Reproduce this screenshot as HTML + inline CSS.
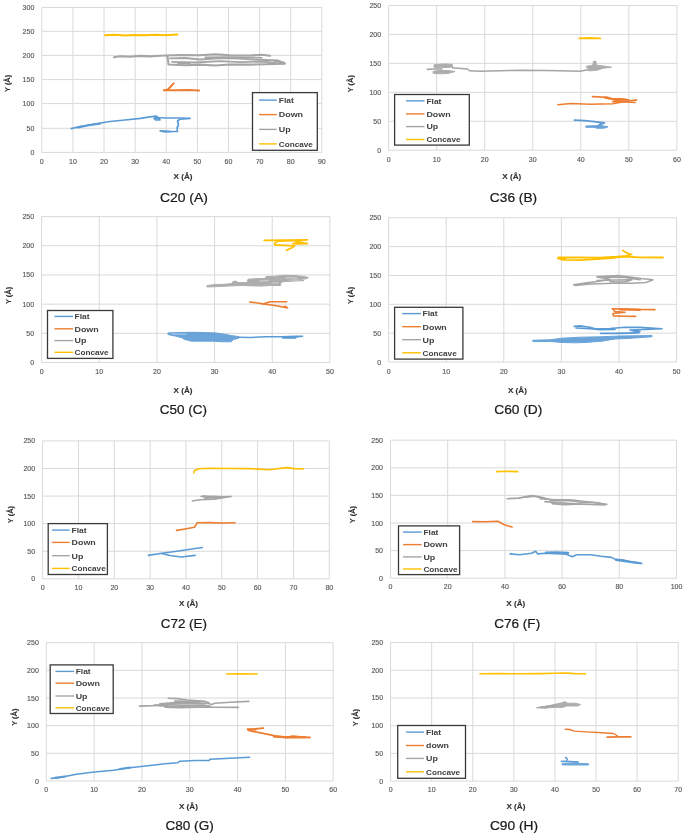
<!DOCTYPE html>
<html><head><meta charset="utf-8"><style>
html,body{margin:0;padding:0;background:#fff;}
svg{display:block;will-change:transform;}
text{font-family:"Liberation Sans", sans-serif;}
.tk{font-size:7px;fill:#595959;stroke:#595959;stroke-width:0.15px;}
.al{font-size:7.2px;fill:#333;font-weight:bold;stroke:#333;stroke-width:0.12px;}
.lg{font-size:7.4px;fill:#404040;font-weight:bold;}
.tt{font-size:12.6px;fill:#1a1a1a;stroke:#1a1a1a;stroke-width:0.22px;}
</style></head><body>
<svg width="685" height="835" viewBox="0 0 685 835">
<rect width="685" height="835" fill="#fff"/>
<path d="M41.8 7.45V152.4M72.91 7.45V152.4M104.02 7.45V152.4M135.13 7.45V152.4M166.24 7.45V152.4M197.36 7.45V152.4M228.47 7.45V152.4M259.58 7.45V152.4M290.69 7.45V152.4M321.8 7.45V152.4M41.8 152.4H321.8M41.8 128.3H321.8M41.8 103.6H321.8M41.8 79.6H321.8M41.8 55.4H321.8M41.8 31.3H321.8M41.8 7.45H321.8" stroke="#D9D9D9" stroke-width="1" fill="none"/>
<text x="41.8" y="164" class="tk" text-anchor="middle">0</text>
<text x="72.91" y="164" class="tk" text-anchor="middle">10</text>
<text x="104.02" y="164" class="tk" text-anchor="middle">20</text>
<text x="135.13" y="164" class="tk" text-anchor="middle">30</text>
<text x="166.24" y="164" class="tk" text-anchor="middle">40</text>
<text x="197.36" y="164" class="tk" text-anchor="middle">50</text>
<text x="228.47" y="164" class="tk" text-anchor="middle">60</text>
<text x="259.58" y="164" class="tk" text-anchor="middle">70</text>
<text x="290.69" y="164" class="tk" text-anchor="middle">80</text>
<text x="321.8" y="164" class="tk" text-anchor="middle">90</text>
<text x="34.3" y="154.9" class="tk" text-anchor="end">0</text>
<text x="34.3" y="130.8" class="tk" text-anchor="end">50</text>
<text x="34.3" y="106.1" class="tk" text-anchor="end">100</text>
<text x="34.3" y="82.1" class="tk" text-anchor="end">150</text>
<text x="34.3" y="57.9" class="tk" text-anchor="end">200</text>
<text x="34.3" y="33.8" class="tk" text-anchor="end">250</text>
<text x="34.3" y="9.95" class="tk" text-anchor="end">300</text>
<text transform="translate(10.4 83.4) rotate(-90)" class="al" x="-8.6" textLength="17.2" lengthAdjust="spacingAndGlyphs">Y (Å)</text>
<text x="173.6" y="179.3" class="al" textLength="19" lengthAdjust="spacingAndGlyphs">X (Å)</text>
<path d="M105 35.2 L115 34.8 L125 35.4 L135 34.9 L145 35.3 L155 34.8 L165 35.2 L177.4 34.5" stroke="#FFC000" stroke-width="2.0" fill="none" stroke-linejoin="round" stroke-linecap="round"/>
<path d="M114 57.3 L120 56.2 L130 56.7 L140 55.9 L150 56.4 L160 55.7 L166.5 55.5 L180 55 L200 55.3 L215 54.3 L230 55.2 L250 55.5 L262 54.8 L270 55.8" stroke="#A5A5A5" stroke-width="2.1" fill="none" stroke-linejoin="round" stroke-linecap="round"/>
<path d="M167.4 56 L168 60 L168.5 64.5 L185 65.2 L200 64.6 L215 65.5 L230 64.5 L250 64.6 L265 64.2 L284.9 63.6 L280 62 L275 61.5" stroke="#A5A5A5" stroke-width="2.1" fill="none" stroke-linejoin="round" stroke-linecap="round"/>
<path d="M170 58.3 L185 58 L200 59.5 L215 58.5 L230 58.2 L255 59.5 L278 60.5 L284 62.5" stroke="#A5A5A5" stroke-width="1.8" fill="none" stroke-linejoin="round" stroke-linecap="round"/>
<path d="M172 61.8 L195 62.5 L220 61.2 L240 62.2 L262 61.5 L275 62.8" stroke="#A5A5A5" stroke-width="1.8" fill="none" stroke-linejoin="round" stroke-linecap="round"/>
<path d="M205 57.3 L225 57 L245 57.3 L262 57.8" stroke="#A5A5A5" stroke-width="1.5" fill="none" stroke-linejoin="round" stroke-linecap="round"/>
<path d="M178 63.5 L190 63.3" stroke="#A5A5A5" stroke-width="1.5" fill="none" stroke-linejoin="round" stroke-linecap="round"/>
<path d="M173.6 83.4 L168 89.5 L163.8 90.3 L175 90.3 L188 90 L199.2 90.4" stroke="#ED7D31" stroke-width="2.0" fill="none" stroke-linejoin="round" stroke-linecap="round"/>
<path d="M71.2 128.6 L80 126.5 L95 124 L110 121.5 L125 120 L140.7 118.4 L150 116.8 L156 116 L158 117.5 L154 118.3 L156 120 L160 119.8 L158 117.5 L165 118 L178 118 L190.2 118.4 L180 119.2 L177.5 121 L178.5 125 L177 128 L177.5 131.5 L170 131.3 L160.1 130.8 L165 131.8 L172 131.6" stroke="#5B9BD5" stroke-width="1.7" fill="none" stroke-linejoin="round" stroke-linecap="round"/>
<path d="M155 117.5 L159 118.5" stroke="#5B9BD5" stroke-width="2.2" fill="none" stroke-linejoin="round" stroke-linecap="round"/>
<path d="M78 127.3 L90 125 L100 123.6" stroke="#5B9BD5" stroke-width="2.2" fill="none" stroke-linejoin="round" stroke-linecap="round"/>
<rect x="252.5" y="92.6" width="64.8" height="57.7" fill="#fff" stroke="#3a3a3a" stroke-width="1.3"/>
<path d="M259 100.1H276.8" stroke="#5B9BD5" stroke-width="1.4"/>
<text x="278.8" y="102.9" class="lg" textLength="15" lengthAdjust="spacingAndGlyphs">Flat</text>
<path d="M259 114.6H276.8" stroke="#ED7D31" stroke-width="1.4"/>
<text x="278.8" y="117.4" class="lg" textLength="24.2" lengthAdjust="spacingAndGlyphs">Down</text>
<path d="M259 129.4H276.8" stroke="#A5A5A5" stroke-width="1.4"/>
<text x="278.8" y="132.2" class="lg" textLength="11.8" lengthAdjust="spacingAndGlyphs">Up</text>
<path d="M259 143.9H276.8" stroke="#FFC000" stroke-width="1.4"/>
<text x="278.8" y="146.7" class="lg" textLength="34.1" lengthAdjust="spacingAndGlyphs">Concave</text>
<text x="159.95" y="201.8" class="tt" textLength="47.9" lengthAdjust="spacingAndGlyphs">C20 (A)</text>
<path d="M388.6 5.5V150.2M436.65 5.5V150.2M484.7 5.5V150.2M532.75 5.5V150.2M580.8 5.5V150.2M628.85 5.5V150.2M676.9 5.5V150.2M388.6 150.2H676.9M388.6 121.26H676.9M388.6 92.32H676.9M388.6 63.38H676.9M388.6 34.44H676.9M388.6 5.5H676.9" stroke="#D9D9D9" stroke-width="1" fill="none"/>
<text x="388.6" y="161.9" class="tk" text-anchor="middle">0</text>
<text x="436.65" y="161.9" class="tk" text-anchor="middle">10</text>
<text x="484.7" y="161.9" class="tk" text-anchor="middle">20</text>
<text x="532.75" y="161.9" class="tk" text-anchor="middle">30</text>
<text x="580.8" y="161.9" class="tk" text-anchor="middle">40</text>
<text x="628.85" y="161.9" class="tk" text-anchor="middle">50</text>
<text x="676.9" y="161.9" class="tk" text-anchor="middle">60</text>
<text x="381.1" y="152.7" class="tk" text-anchor="end">0</text>
<text x="381.1" y="123.76" class="tk" text-anchor="end">50</text>
<text x="381.1" y="94.82" class="tk" text-anchor="end">100</text>
<text x="381.1" y="65.88" class="tk" text-anchor="end">150</text>
<text x="381.1" y="36.94" class="tk" text-anchor="end">200</text>
<text x="381.1" y="8" class="tk" text-anchor="end">250</text>
<text transform="translate(353.1 83.75) rotate(-90)" class="al" x="-8.6" textLength="17.2" lengthAdjust="spacingAndGlyphs">Y (Å)</text>
<text x="502.3" y="179.4" class="al" textLength="19" lengthAdjust="spacingAndGlyphs">X (Å)</text>
<path d="M579.2 38.4 L590 38 L600.3 38.4" stroke="#FFC000" stroke-width="1.8" fill="none" stroke-linejoin="round" stroke-linecap="round"/>
<path d="M452.4 67.7 L467.3 69 L470 70.8 L480 71.2 L500 70.8 L520 70.3 L545 70.6 L560 70.8 L580.1 71.2 L586.3 69.9" stroke="#A5A5A5" stroke-width="1.5" fill="none" stroke-linejoin="round" stroke-linecap="round"/>
<path d="M434 64.8 L445 64 L452.4 64.5 L452.4 67 L445 67.5 L440 67.8 L434 67.3Z" stroke="#A5A5A5" stroke-width="1" fill="#A5A5A5" stroke-linejoin="round" opacity="0.9"/>
<path d="M427.4 69.4 L434 69 L441.9 69" stroke="#A5A5A5" stroke-width="1.6" fill="none" stroke-linejoin="round" stroke-linecap="round"/>
<path d="M433.1 71.3 L440 70.5 L448 70.6 L455 71.5 L448 73.5 L440 73.8 L433.1 73.3Z" stroke="#A5A5A5" stroke-width="1" fill="#A5A5A5" stroke-linejoin="round" opacity="0.9"/>
<path d="M586.3 66.3 L591 65.6 L593.2 64.6 L593.3 61.3 L596 61.3 L596.3 65.2 L603 65.9 L611.7 67.2 L603 68.3 L597 70.2 L590 70.9 L586.3 70.1 L588.5 68.4 L586.3 67.2Z" stroke="#A5A5A5" stroke-width="1" fill="#A5A5A5" stroke-linejoin="round" opacity="0.9"/>
<path d="M557.9 104.7 L570.8 103.5 L590.5 104.2 L612.8 103.8 L625 101.5 L636.5 99.9" stroke="#ED7D31" stroke-width="1.6" fill="none" stroke-linejoin="round" stroke-linecap="round"/>
<path d="M592.4 96.6 L607.6 97.2 L610.2 98.5 L622 98.9 L628.6 99.9 L618 100.2 L612.8 101.6 L625 102 L635.1 102.5" stroke="#ED7D31" stroke-width="1.6" fill="none" stroke-linejoin="round" stroke-linecap="round"/>
<path d="M605 97.6 L612 98.8 L620 99.4" stroke="#ED7D31" stroke-width="2.2" fill="none" stroke-linejoin="round" stroke-linecap="round"/>
<path d="M574.5 120.2 L584.7 120.6 L596.4 121.9 L604.4 123 L600 124.4 L598 126.2" stroke="#5B9BD5" stroke-width="1.8" fill="none" stroke-linejoin="round" stroke-linecap="round"/>
<path d="M585.8 126 L596.4 125.6 L601 125.5 L608.1 126.8 L604 128.2 L597.1 128.3 L594 127.3 L585.8 127.3Z" stroke="#5B9BD5" stroke-width="1" fill="#5B9BD5" stroke-linejoin="round" opacity="0.9"/>
<rect x="394.6" y="94.5" width="74.7" height="50.6" fill="#fff" stroke="#3a3a3a" stroke-width="1.3"/>
<path d="M406 100.8H424.5" stroke="#5B9BD5" stroke-width="1.4"/>
<text x="426.4" y="103.6" class="lg" textLength="15" lengthAdjust="spacingAndGlyphs">Flat</text>
<path d="M406 113.9H424.5" stroke="#ED7D31" stroke-width="1.4"/>
<text x="426.4" y="116.7" class="lg" textLength="24.2" lengthAdjust="spacingAndGlyphs">Down</text>
<path d="M406 126.6H424.5" stroke="#A5A5A5" stroke-width="1.4"/>
<text x="426.4" y="129.4" class="lg" textLength="11.8" lengthAdjust="spacingAndGlyphs">Up</text>
<path d="M406 139.5H424.5" stroke="#FFC000" stroke-width="1.4"/>
<text x="426.4" y="142.3" class="lg" textLength="34.1" lengthAdjust="spacingAndGlyphs">Concave</text>
<text x="489.85" y="202" class="tt" textLength="47.3" lengthAdjust="spacingAndGlyphs">C36 (B)</text>
<path d="M41.6 216.6V362.5M99.26 216.6V362.5M156.92 216.6V362.5M214.58 216.6V362.5M272.24 216.6V362.5M329.9 216.6V362.5M41.6 362.5H329.9M41.6 333.32H329.9M41.6 304.14H329.9M41.6 274.96H329.9M41.6 245.78H329.9M41.6 216.6H329.9" stroke="#D9D9D9" stroke-width="1" fill="none"/>
<text x="41.6" y="373.7" class="tk" text-anchor="middle">0</text>
<text x="99.26" y="373.7" class="tk" text-anchor="middle">10</text>
<text x="156.92" y="373.7" class="tk" text-anchor="middle">20</text>
<text x="214.58" y="373.7" class="tk" text-anchor="middle">30</text>
<text x="272.24" y="373.7" class="tk" text-anchor="middle">40</text>
<text x="329.9" y="373.7" class="tk" text-anchor="middle">50</text>
<text x="34.1" y="365" class="tk" text-anchor="end">0</text>
<text x="34.1" y="335.82" class="tk" text-anchor="end">50</text>
<text x="34.1" y="306.64" class="tk" text-anchor="end">100</text>
<text x="34.1" y="277.46" class="tk" text-anchor="end">150</text>
<text x="34.1" y="248.28" class="tk" text-anchor="end">200</text>
<text x="34.1" y="219.1" class="tk" text-anchor="end">250</text>
<text transform="translate(10.7 295.5) rotate(-90)" class="al" x="-8.6" textLength="17.2" lengthAdjust="spacingAndGlyphs">Y (Å)</text>
<text x="173.5" y="392.7" class="al" textLength="19" lengthAdjust="spacingAndGlyphs">X (Å)</text>
<path d="M264.2 240.3 L285 240.2 L307.5 239.8 L292 240.6 L277.8 241 L274.4 243.6 L275 245 L285 245.4 L294.8 245.8 L292 247.8 L286.5 250.3" stroke="#FFC000" stroke-width="1.8" fill="none" stroke-linejoin="round" stroke-linecap="round"/>
<path d="M292.7 243.6 L300 242.6 L297 241.6 L307.5 243.6 L295 243.8" stroke="#FFC000" stroke-width="1.8" fill="none" stroke-linejoin="round" stroke-linecap="round"/>
<path d="M296 241.5 L300 242.5" stroke="#FFC000" stroke-width="2.4" fill="none" stroke-linejoin="round" stroke-linecap="round"/>
<path d="M207 285.5 L215 284.6 L225 284.2 L231.5 283.6 L233 281.5 L236 281.1 L238 282.6 L247 282.6 L248 279.2 L258 278.5 L265 278.4 L266 276.6 L275 276.2 L285 275.3 L295 275.6 L303 276.3 L308.6 277.5 L306 278.8 L300 279.3 L304 280.6 L295 281 L285 281.6 L281 282.2 L280.6 285.6 L270 285.5 L262 286.1 L250 285.8 L240 285.5 L230 285.9 L220 286.5 L207 287Z" stroke="#A5A5A5" stroke-width="1" fill="#A5A5A5" stroke-linejoin="round" opacity="0.9"/>
<path d="M286 278 L292 277.8 L297 278.1" stroke="#E4E4E4" stroke-width="0.7" fill="none" stroke-linejoin="round" stroke-linecap="round"/>
<path d="M260 281 L268 280.6" stroke="#E4E4E4" stroke-width="0.7" fill="none" stroke-linejoin="round" stroke-linecap="round"/>
<path d="M272 283.2 L278 283" stroke="#E4E4E4" stroke-width="0.6" fill="none" stroke-linejoin="round" stroke-linecap="round"/>
<path d="M290 280.1 L299 280" stroke="#E4E4E4" stroke-width="0.6" fill="none" stroke-linejoin="round" stroke-linecap="round"/>
<path d="M249.9 302.1 L256 302.8 L263 303.9 L270 301.8 L286.7 301.8" stroke="#ED7D31" stroke-width="1.6" fill="none" stroke-linejoin="round" stroke-linecap="round"/>
<path d="M263 303.9 L275 305.5 L287.6 307.9 L285 306.2" stroke="#ED7D31" stroke-width="1.6" fill="none" stroke-linejoin="round" stroke-linecap="round"/>
<path d="M167.9 332.9 L180 332.4 L195 332.3 L215.2 332.9 L225 334.2 L231 335.5 L238.8 336.6 L238.8 338.1 L233.6 339.5 L231 341.8 L223 341.8 L212.6 341.2 L191.5 341.2 L183.6 339.2 L183 338.1 L175.8 336.2 L167.9 334.5Z" stroke="#5B9BD5" stroke-width="1" fill="#5B9BD5" stroke-linejoin="round" opacity="0.9"/>
<path d="M172 333.8 L186 334.3" stroke="#EAF2FA" stroke-width="0.6" fill="none" stroke-linejoin="round" stroke-linecap="round"/>
<path d="M238 337.2 L250 337.5 L265 336.8 L281.5 336.7 L296.4 336.2 L302.5 336.3 L290 337.7 L282.7 337.8" stroke="#5B9BD5" stroke-width="1.6" fill="none" stroke-linejoin="round" stroke-linecap="round"/>
<path d="M283 337.5 L295.5 337.8" stroke="#5B9BD5" stroke-width="2.0" fill="none" stroke-linejoin="round" stroke-linecap="round"/>
<rect x="47.5" y="310.5" width="65.4" height="47.9" fill="#fff" stroke="#3a3a3a" stroke-width="1.3"/>
<path d="M54.5 316.4H73.1" stroke="#5B9BD5" stroke-width="1.4"/>
<text x="74.5" y="319.2" class="lg" textLength="15" lengthAdjust="spacingAndGlyphs">Flat</text>
<path d="M54.5 328.8H73.1" stroke="#ED7D31" stroke-width="1.4"/>
<text x="74.5" y="331.6" class="lg" textLength="24.2" lengthAdjust="spacingAndGlyphs">Down</text>
<path d="M54.5 340.6H73.1" stroke="#A5A5A5" stroke-width="1.4"/>
<text x="74.5" y="343.4" class="lg" textLength="11.8" lengthAdjust="spacingAndGlyphs">Up</text>
<path d="M54.5 352.3H73.1" stroke="#FFC000" stroke-width="1.4"/>
<text x="74.5" y="355.1" class="lg" textLength="34.1" lengthAdjust="spacingAndGlyphs">Concave</text>
<text x="159.75" y="414" class="tt" textLength="47.3" lengthAdjust="spacingAndGlyphs">C50 (C)</text>
<path d="M388.6 217.8V362M446.2 217.8V362M503.8 217.8V362M561.4 217.8V362M619 217.8V362M676.6 217.8V362M388.6 362H676.6M388.6 333.16H676.6M388.6 304.32H676.6M388.6 275.48H676.6M388.6 246.64H676.6M388.6 217.8H676.6" stroke="#D9D9D9" stroke-width="1" fill="none"/>
<text x="388.6" y="373.7" class="tk" text-anchor="middle">0</text>
<text x="446.2" y="373.7" class="tk" text-anchor="middle">10</text>
<text x="503.8" y="373.7" class="tk" text-anchor="middle">20</text>
<text x="561.4" y="373.7" class="tk" text-anchor="middle">30</text>
<text x="619" y="373.7" class="tk" text-anchor="middle">40</text>
<text x="676.6" y="373.7" class="tk" text-anchor="middle">50</text>
<text x="381.1" y="364.5" class="tk" text-anchor="end">0</text>
<text x="381.1" y="335.66" class="tk" text-anchor="end">50</text>
<text x="381.1" y="306.82" class="tk" text-anchor="end">100</text>
<text x="381.1" y="277.98" class="tk" text-anchor="end">150</text>
<text x="381.1" y="249.14" class="tk" text-anchor="end">200</text>
<text x="381.1" y="220.3" class="tk" text-anchor="end">250</text>
<text transform="translate(352.9 295.5) rotate(-90)" class="al" x="-8.6" textLength="17.2" lengthAdjust="spacingAndGlyphs">Y (Å)</text>
<text x="507.9" y="392.7" class="al" textLength="19" lengthAdjust="spacingAndGlyphs">X (Å)</text>
<path d="M558.5 257.5 L580 257.3 L600 257.6 L622 256.5 L640 257.3 L663 257.5" stroke="#FFC000" stroke-width="1.8" fill="none" stroke-linejoin="round" stroke-linecap="round"/>
<path d="M558.5 258 L562 259.8 L580 260.2 L597 259 L612 258 L625 256.2 L631.7 254.5 L627 253 L622.8 250.5" stroke="#FFC000" stroke-width="1.8" fill="none" stroke-linejoin="round" stroke-linecap="round"/>
<path d="M558.5 258.3 L565 258.5" stroke="#FFC000" stroke-width="2.6" fill="none" stroke-linejoin="round" stroke-linecap="round"/>
<path d="M575 285.5 L590 284 L613.4 283.2 L632 283.2 L646 282.5 L653 279.7 L641.5 278.5 L618 275.5 L597 276.9 L610 279.2 L597 281.5 L585 283 L573.7 284.8" stroke="#A5A5A5" stroke-width="1.6" fill="none" stroke-linejoin="round" stroke-linecap="round"/>
<path d="M597 280.5 L615 280 L632 279.8 L625 282 L610 281.8" stroke="#A5A5A5" stroke-width="1.6" fill="none" stroke-linejoin="round" stroke-linecap="round"/>
<path d="M605 277 L625 277.3 L640 279.5" stroke="#A5A5A5" stroke-width="2.0" fill="none" stroke-linejoin="round" stroke-linecap="round"/>
<path d="M612.3 308.9 L625 309 L640 309.5 L655 309.6" stroke="#ED7D31" stroke-width="1.6" fill="none" stroke-linejoin="round" stroke-linecap="round"/>
<path d="M613.4 309 L614.5 311.5 L625 312.2 L613 313.5 L613.4 315.9 L625 316.2 L635.6 316.4" stroke="#ED7D31" stroke-width="1.6" fill="none" stroke-linejoin="round" stroke-linecap="round"/>
<path d="M620 309.4 L640 309.8" stroke="#ED7D31" stroke-width="2.2" fill="none" stroke-linejoin="round" stroke-linecap="round"/>
<path d="M574.2 326.4 L580 325.9 L590 327.2 L595 328.8 L610 328.5 L625 327.2 L640 327.4 L662 328.7 L645 329.5 L630 330 L640 331.5 L630 332.8 L615 333.2 L600.6 333.4 L620 333.4 L639.1 332.9" stroke="#5B9BD5" stroke-width="1.6" fill="none" stroke-linejoin="round" stroke-linecap="round"/>
<path d="M576 328 L590 328.6 L600 329.6 L615 329.4" stroke="#5B9BD5" stroke-width="1.6" fill="none" stroke-linejoin="round" stroke-linecap="round"/>
<path d="M532.8 340.2 L550 339.8 L562 338.2 L580 337.2 L600 336.8 L620 336 L652 335.5 L652 336.8 L630 338.3 L615 339 L601.8 341.2 L585 342.5 L575 342.8 L562 342.5 L550 341.5 L532.8 341.6Z" stroke="#5B9BD5" stroke-width="1" fill="#5B9BD5" stroke-linejoin="round" opacity="0.9"/>
<rect x="394.6" y="307.3" width="68.3" height="51.8" fill="#fff" stroke="#3a3a3a" stroke-width="1.3"/>
<path d="M402.2 313.6H420.9" stroke="#5B9BD5" stroke-width="1.4"/>
<text x="422.6" y="316.4" class="lg" textLength="15" lengthAdjust="spacingAndGlyphs">Flat</text>
<path d="M402.2 326.7H420.9" stroke="#ED7D31" stroke-width="1.4"/>
<text x="422.6" y="329.5" class="lg" textLength="24.2" lengthAdjust="spacingAndGlyphs">Down</text>
<path d="M402.2 339.7H420.9" stroke="#A5A5A5" stroke-width="1.4"/>
<text x="422.6" y="342.5" class="lg" textLength="11.8" lengthAdjust="spacingAndGlyphs">Up</text>
<path d="M402.2 352.8H420.9" stroke="#FFC000" stroke-width="1.4"/>
<text x="422.6" y="355.6" class="lg" textLength="34.1" lengthAdjust="spacingAndGlyphs">Concave</text>
<text x="494.2" y="414" class="tt" textLength="48.2" lengthAdjust="spacingAndGlyphs">C60 (D)</text>
<path d="M42.6 440.9V578.8M78.44 440.9V578.8M114.28 440.9V578.8M150.11 440.9V578.8M185.95 440.9V578.8M221.79 440.9V578.8M257.62 440.9V578.8M293.46 440.9V578.8M329.3 440.9V578.8M42.6 578.8H329.3M42.6 551.22H329.3M42.6 523.64H329.3M42.6 496.06H329.3M42.6 468.48H329.3M42.6 440.9H329.3" stroke="#D9D9D9" stroke-width="1" fill="none"/>
<text x="42.6" y="590.1" class="tk" text-anchor="middle">0</text>
<text x="78.44" y="590.1" class="tk" text-anchor="middle">10</text>
<text x="114.28" y="590.1" class="tk" text-anchor="middle">20</text>
<text x="150.11" y="590.1" class="tk" text-anchor="middle">30</text>
<text x="185.95" y="590.1" class="tk" text-anchor="middle">40</text>
<text x="221.79" y="590.1" class="tk" text-anchor="middle">50</text>
<text x="257.62" y="590.1" class="tk" text-anchor="middle">60</text>
<text x="293.46" y="590.1" class="tk" text-anchor="middle">70</text>
<text x="329.3" y="590.1" class="tk" text-anchor="middle">80</text>
<text x="35.1" y="581.3" class="tk" text-anchor="end">0</text>
<text x="35.1" y="553.72" class="tk" text-anchor="end">50</text>
<text x="35.1" y="526.14" class="tk" text-anchor="end">100</text>
<text x="35.1" y="498.56" class="tk" text-anchor="end">150</text>
<text x="35.1" y="470.98" class="tk" text-anchor="end">200</text>
<text x="35.1" y="443.4" class="tk" text-anchor="end">250</text>
<text transform="translate(12.5 514.6) rotate(-90)" class="al" x="-8.6" textLength="17.2" lengthAdjust="spacingAndGlyphs">Y (Å)</text>
<text x="179.1" y="606.4" class="al" textLength="19" lengthAdjust="spacingAndGlyphs">X (Å)</text>
<path d="M193.8 472.9 L194.5 470.5 L198.8 468.7 L210 468.2 L230 468.5 L250 468.6 L269.3 469.8 L286.3 467.6 L295 468.6 L303.4 468.9" stroke="#FFC000" stroke-width="1.6" fill="none" stroke-linejoin="round" stroke-linecap="round"/>
<path d="M192.3 501 L200 499.8 L214 499.2 L231.2 496.5 L210 497 L203 495.7 L205 498 L220 497.5" stroke="#A5A5A5" stroke-width="1.6" fill="none" stroke-linejoin="round" stroke-linecap="round"/>
<path d="M201 496.5 L212 496.2 L225 496.8" stroke="#A5A5A5" stroke-width="1.4" fill="none" stroke-linejoin="round" stroke-linecap="round"/>
<path d="M176.5 530.4 L185 529 L194.4 527.3 L196 525 L197 522.8 L210 522.6 L222 523 L235.1 522.8" stroke="#ED7D31" stroke-width="1.6" fill="none" stroke-linejoin="round" stroke-linecap="round"/>
<path d="M148.4 555.4 L160 553.5 L175 551.5 L190 549.2 L202.3 547.5" stroke="#5B9BD5" stroke-width="1.6" fill="none" stroke-linejoin="round" stroke-linecap="round"/>
<path d="M161.5 553.5 L170 555.5 L181.2 557 L195.2 555.4" stroke="#5B9BD5" stroke-width="1.6" fill="none" stroke-linejoin="round" stroke-linecap="round"/>
<rect x="48.2" y="523.6" width="59.2" height="50.9" fill="#fff" stroke="#3a3a3a" stroke-width="1.3"/>
<path d="M51.9 530.1H69.7" stroke="#5B9BD5" stroke-width="1.4"/>
<text x="71.6" y="532.9" class="lg" textLength="15" lengthAdjust="spacingAndGlyphs">Flat</text>
<path d="M51.9 542.4H69.7" stroke="#ED7D31" stroke-width="1.4"/>
<text x="71.6" y="545.2" class="lg" textLength="24.2" lengthAdjust="spacingAndGlyphs">Down</text>
<path d="M51.9 555.7H69.7" stroke="#A5A5A5" stroke-width="1.4"/>
<text x="71.6" y="558.5" class="lg" textLength="11.8" lengthAdjust="spacingAndGlyphs">Up</text>
<path d="M51.9 568.4H69.7" stroke="#FFC000" stroke-width="1.4"/>
<text x="71.6" y="571.2" class="lg" textLength="34.1" lengthAdjust="spacingAndGlyphs">Concave</text>
<text x="160.8" y="628.1" class="tt" textLength="46.2" lengthAdjust="spacingAndGlyphs">C72 (E)</text>
<path d="M390.5 440.2V578.2M447.7 440.2V578.2M504.9 440.2V578.2M562.1 440.2V578.2M619.3 440.2V578.2M676.5 440.2V578.2M390.5 578.2H676.5M390.5 550.6H676.5M390.5 523H676.5M390.5 495.4H676.5M390.5 467.8H676.5M390.5 440.2H676.5" stroke="#D9D9D9" stroke-width="1" fill="none"/>
<text x="390.5" y="589.2" class="tk" text-anchor="middle">0</text>
<text x="447.7" y="589.2" class="tk" text-anchor="middle">20</text>
<text x="504.9" y="589.2" class="tk" text-anchor="middle">40</text>
<text x="562.1" y="589.2" class="tk" text-anchor="middle">60</text>
<text x="619.3" y="589.2" class="tk" text-anchor="middle">80</text>
<text x="676.5" y="589.2" class="tk" text-anchor="middle">100</text>
<text x="383" y="580.7" class="tk" text-anchor="end">0</text>
<text x="383" y="553.1" class="tk" text-anchor="end">50</text>
<text x="383" y="525.5" class="tk" text-anchor="end">100</text>
<text x="383" y="497.9" class="tk" text-anchor="end">150</text>
<text x="383" y="470.3" class="tk" text-anchor="end">200</text>
<text x="383" y="442.7" class="tk" text-anchor="end">250</text>
<text transform="translate(355.4 514.6) rotate(-90)" class="al" x="-8.6" textLength="17.2" lengthAdjust="spacingAndGlyphs">Y (Å)</text>
<text x="506.3" y="606.4" class="al" textLength="19" lengthAdjust="spacingAndGlyphs">X (Å)</text>
<path d="M496.5 471.6 L507 471.3 L517.8 471.6" stroke="#FFC000" stroke-width="1.6" fill="none" stroke-linejoin="round" stroke-linecap="round"/>
<path d="M507 498.7 L519.3 498.1 L531.5 495.5 L542.9 497.6 L552.6 500.8 L570 500.8 L580.6 502.2 L592.9 502.5 L606.9 504.3" stroke="#A5A5A5" stroke-width="1.6" fill="none" stroke-linejoin="round" stroke-linecap="round"/>
<path d="M540 498.6 L555 499.8 L570 499.8 L585 501.5 L600 503" stroke="#A5A5A5" stroke-width="1.6" fill="none" stroke-linejoin="round" stroke-linecap="round"/>
<path d="M545 501.6 L560 502.8 L575 503.8 L590 504.3 L605 504.8" stroke="#A5A5A5" stroke-width="1.8" fill="none" stroke-linejoin="round" stroke-linecap="round"/>
<path d="M552 503.6 L565 504.6 L580 504" stroke="#A5A5A5" stroke-width="1.6" fill="none" stroke-linejoin="round" stroke-linecap="round"/>
<path d="M525 497 L535 496.2 L545 498.6" stroke="#A5A5A5" stroke-width="1.6" fill="none" stroke-linejoin="round" stroke-linecap="round"/>
<path d="M519 497.6 L530 496.9" stroke="#A5A5A5" stroke-width="1.3" fill="none" stroke-linejoin="round" stroke-linecap="round"/>
<path d="M472.6 521.6 L485 521.7 L498 521.3 L503.8 524.5 L512 527.1" stroke="#ED7D31" stroke-width="1.6" fill="none" stroke-linejoin="round" stroke-linecap="round"/>
<path d="M510.1 553.9 L519.3 554.7 L531.6 553.3 L535.7 551.2 L537.7 553.9 L545.9 553.3 L566.3 554.3 L572.4 556.8 L576.5 554.7 L590.8 554.7 L601.1 556.3 L611.3 557.4 L615.4 559.4 L623.5 560 L631.7 562.1 L641.9 563.5" stroke="#5B9BD5" stroke-width="1.6" fill="none" stroke-linejoin="round" stroke-linecap="round"/>
<path d="M546 552.6 L556 552.4 L568 553" stroke="#5B9BD5" stroke-width="2.4" fill="none" stroke-linejoin="round" stroke-linecap="round"/>
<path d="M616 559.8 L630 561.8 L640 563.2" stroke="#5B9BD5" stroke-width="2.2" fill="none" stroke-linejoin="round" stroke-linecap="round"/>
<rect x="398.5" y="525.9" width="61.1" height="48.7" fill="#fff" stroke="#3a3a3a" stroke-width="1.3"/>
<path d="M403 532.1H421.6" stroke="#5B9BD5" stroke-width="1.4"/>
<text x="423.4" y="534.9" class="lg" textLength="15" lengthAdjust="spacingAndGlyphs">Flat</text>
<path d="M403 544.6H421.6" stroke="#ED7D31" stroke-width="1.4"/>
<text x="423.4" y="547.4" class="lg" textLength="24.2" lengthAdjust="spacingAndGlyphs">Down</text>
<path d="M403 556.9H421.6" stroke="#A5A5A5" stroke-width="1.4"/>
<text x="423.4" y="559.7" class="lg" textLength="11.8" lengthAdjust="spacingAndGlyphs">Up</text>
<path d="M403 569H421.6" stroke="#FFC000" stroke-width="1.4"/>
<text x="423.4" y="571.8" class="lg" textLength="34.1" lengthAdjust="spacingAndGlyphs">Concave</text>
<text x="494.2" y="628.1" class="tt" textLength="46" lengthAdjust="spacingAndGlyphs">C76 (F)</text>
<path d="M46.3 642.7V781M94.12 642.7V781M141.93 642.7V781M189.75 642.7V781M237.57 642.7V781M285.38 642.7V781M333.2 642.7V781M46.3 781H333.2M46.3 753.34H333.2M46.3 725.68H333.2M46.3 698.02H333.2M46.3 670.36H333.2M46.3 642.7H333.2" stroke="#D9D9D9" stroke-width="1" fill="none"/>
<text x="46.3" y="792.1" class="tk" text-anchor="middle">0</text>
<text x="94.12" y="792.1" class="tk" text-anchor="middle">10</text>
<text x="141.93" y="792.1" class="tk" text-anchor="middle">20</text>
<text x="189.75" y="792.1" class="tk" text-anchor="middle">30</text>
<text x="237.57" y="792.1" class="tk" text-anchor="middle">40</text>
<text x="285.38" y="792.1" class="tk" text-anchor="middle">50</text>
<text x="333.2" y="792.1" class="tk" text-anchor="middle">60</text>
<text x="38.8" y="783.5" class="tk" text-anchor="end">0</text>
<text x="38.8" y="755.84" class="tk" text-anchor="end">50</text>
<text x="38.8" y="728.18" class="tk" text-anchor="end">100</text>
<text x="38.8" y="700.52" class="tk" text-anchor="end">150</text>
<text x="38.8" y="672.86" class="tk" text-anchor="end">200</text>
<text x="38.8" y="645.2" class="tk" text-anchor="end">250</text>
<text transform="translate(16.8 717.2) rotate(-90)" class="al" x="-8.6" textLength="17.2" lengthAdjust="spacingAndGlyphs">Y (Å)</text>
<text x="178.9" y="808.9" class="al" textLength="19" lengthAdjust="spacingAndGlyphs">X (Å)</text>
<path d="M226.7 674 L240 673.8 L257.1 674" stroke="#FFC000" stroke-width="1.6" fill="none" stroke-linejoin="round" stroke-linecap="round"/>
<path d="M139.4 706.1 L152.5 705.6 L165 704.5 L180 704 L195 703.8 L208.6 703.5" stroke="#A5A5A5" stroke-width="1.6" fill="none" stroke-linejoin="round" stroke-linecap="round"/>
<path d="M155 705.2 L170 706.3 L185 706 L200 705.6 L210 706.2" stroke="#A5A5A5" stroke-width="2.0" fill="none" stroke-linejoin="round" stroke-linecap="round"/>
<path d="M160 704 L175 702.8 L190 703 L205 703.4" stroke="#A5A5A5" stroke-width="2.0" fill="none" stroke-linejoin="round" stroke-linecap="round"/>
<path d="M168.3 698.3 L177 698.6 L187.6 700 L205 701.4 L208.6 702.6" stroke="#A5A5A5" stroke-width="1.6" fill="none" stroke-linejoin="round" stroke-linecap="round"/>
<path d="M165 707.2 L180 707.6 L196.3 707.1 L215 707.2 L238.4 707.4" stroke="#A5A5A5" stroke-width="1.6" fill="none" stroke-linejoin="round" stroke-linecap="round"/>
<path d="M208.6 703.5 L212 704.4 L214.7 703.2 L230 702.3 L248.9 701.4" stroke="#A5A5A5" stroke-width="1.6" fill="none" stroke-linejoin="round" stroke-linecap="round"/>
<path d="M175 701.2 L190 701.5 L200 702.2" stroke="#A5A5A5" stroke-width="1.8" fill="none" stroke-linejoin="round" stroke-linecap="round"/>
<path d="M263.4 728.2 L255 728.8 L247.6 729.1 L249.3 730.7 L263.4 733.4 L275 735.8 L286.7 737.5 L292.6 736.1 L300.7 736.9 L310 737.5" stroke="#ED7D31" stroke-width="1.8" fill="none" stroke-linejoin="round" stroke-linecap="round"/>
<path d="M274 736.6 L290 737.4 L305 737.4" stroke="#ED7D31" stroke-width="2.2" fill="none" stroke-linejoin="round" stroke-linecap="round"/>
<path d="M248 729.8 L256 729.4" stroke="#ED7D31" stroke-width="2.0" fill="none" stroke-linejoin="round" stroke-linecap="round"/>
<path d="M51.2 778.4 L60 777.5 L75 774.5 L90 772.5 L105 771 L113.6 770.2 L130 767.8 L150 765.5 L165 763.8 L177.8 762.7 L180 761.2 L195 760.5 L209.2 760.5 L210 759.3 L225 758.5 L240 757.8 L249.6 757.2" stroke="#5B9BD5" stroke-width="1.6" fill="none" stroke-linejoin="round" stroke-linecap="round"/>
<path d="M55 777.8 L65 776.5" stroke="#5B9BD5" stroke-width="2.2" fill="none" stroke-linejoin="round" stroke-linecap="round"/>
<path d="M120 769 L130 767.6" stroke="#5B9BD5" stroke-width="2.0" fill="none" stroke-linejoin="round" stroke-linecap="round"/>
<rect x="50.2" y="664.9" width="63" height="48.6" fill="#fff" stroke="#3a3a3a" stroke-width="1.3"/>
<path d="M55.5 671.4H74.2" stroke="#5B9BD5" stroke-width="1.4"/>
<text x="75.7" y="674.2" class="lg" textLength="15" lengthAdjust="spacingAndGlyphs">Flat</text>
<path d="M55.5 683.2H74.2" stroke="#ED7D31" stroke-width="1.4"/>
<text x="75.7" y="686" class="lg" textLength="24.2" lengthAdjust="spacingAndGlyphs">Down</text>
<path d="M55.5 696H74.2" stroke="#A5A5A5" stroke-width="1.4"/>
<text x="75.7" y="698.8" class="lg" textLength="11.8" lengthAdjust="spacingAndGlyphs">Up</text>
<path d="M55.5 707.8H74.2" stroke="#FFC000" stroke-width="1.4"/>
<text x="75.7" y="710.6" class="lg" textLength="34.1" lengthAdjust="spacingAndGlyphs">Concave</text>
<text x="165.5" y="830.3" class="tt" textLength="48.2" lengthAdjust="spacingAndGlyphs">C80 (G)</text>
<path d="M390.6 642.5V781.1M431.69 642.5V781.1M472.77 642.5V781.1M513.86 642.5V781.1M554.94 642.5V781.1M596.03 642.5V781.1M637.11 642.5V781.1M678.2 642.5V781.1M390.6 781.1H678.2M390.6 753.38H678.2M390.6 725.66H678.2M390.6 697.94H678.2M390.6 670.22H678.2M390.6 642.5H678.2" stroke="#D9D9D9" stroke-width="1" fill="none"/>
<text x="390.6" y="792.2" class="tk" text-anchor="middle">0</text>
<text x="431.69" y="792.2" class="tk" text-anchor="middle">10</text>
<text x="472.77" y="792.2" class="tk" text-anchor="middle">20</text>
<text x="513.86" y="792.2" class="tk" text-anchor="middle">30</text>
<text x="554.94" y="792.2" class="tk" text-anchor="middle">40</text>
<text x="596.03" y="792.2" class="tk" text-anchor="middle">50</text>
<text x="637.11" y="792.2" class="tk" text-anchor="middle">60</text>
<text x="678.2" y="792.2" class="tk" text-anchor="middle">70</text>
<text x="383.1" y="783.6" class="tk" text-anchor="end">0</text>
<text x="383.1" y="755.88" class="tk" text-anchor="end">50</text>
<text x="383.1" y="728.16" class="tk" text-anchor="end">100</text>
<text x="383.1" y="700.44" class="tk" text-anchor="end">150</text>
<text x="383.1" y="672.72" class="tk" text-anchor="end">200</text>
<text x="383.1" y="645" class="tk" text-anchor="end">250</text>
<text transform="translate(357.9 717.6) rotate(-90)" class="al" x="-8.6" textLength="17.2" lengthAdjust="spacingAndGlyphs">Y (Å)</text>
<text x="506.4" y="808.9" class="al" textLength="19" lengthAdjust="spacingAndGlyphs">X (Å)</text>
<path d="M479.9 673.7 L500 673.6 L520 673.8 L540 673.6 L556 673.2 L566 673 L575 673.6 L585.5 673.7" stroke="#FFC000" stroke-width="1.6" fill="none" stroke-linejoin="round" stroke-linecap="round"/>
<path d="M537.2 707.8 L546.1 706.6 L555.7 705.4" stroke="#A5A5A5" stroke-width="1.6" fill="none" stroke-linejoin="round" stroke-linecap="round"/>
<path d="M540 707.3 L550 705.5 L557.3 703.8 L562 702.8 L565.3 701.6 L566.9 703.2 L575 703.2 L580.6 704.5 L578 705.9 L566.9 706 L562 707.5 L555 707.3 L545 708.2 L540 708Z" stroke="#A5A5A5" stroke-width="1" fill="#A5A5A5" stroke-linejoin="round" opacity="0.9"/>
<path d="M565.3 729.2 L570.1 729.5 L574.2 731.1 L586.2 731.9 L602.3 732.7 L613.5 733.5 L617.5 736" stroke="#ED7D31" stroke-width="1.4" fill="none" stroke-linejoin="round" stroke-linecap="round"/>
<path d="M607.1 737.1 L620 736.8 L630.8 736.8" stroke="#ED7D31" stroke-width="1.8" fill="none" stroke-linejoin="round" stroke-linecap="round"/>
<path d="M565.3 757.3 L567.3 758.9 L566.6 760.8" stroke="#5B9BD5" stroke-width="1.4" fill="none" stroke-linejoin="round" stroke-linecap="round"/>
<path d="M561.3 761.2 L570 761.6 L578.2 762.1" stroke="#5B9BD5" stroke-width="1.6" fill="none" stroke-linejoin="round" stroke-linecap="round"/>
<path d="M562.1 763.4 L575 763.3 L588.6 763.8 L588.6 765 L575 765 L562.1 764.9Z" stroke="#5B9BD5" stroke-width="1" fill="#5B9BD5" stroke-linejoin="round" opacity="0.9"/>
<rect x="397.7" y="725.5" width="67.8" height="52.8" fill="#fff" stroke="#3a3a3a" stroke-width="1.3"/>
<path d="M406 732.1H424" stroke="#5B9BD5" stroke-width="1.4"/>
<text x="426" y="734.9" class="lg" textLength="15" lengthAdjust="spacingAndGlyphs">Flat</text>
<path d="M406 745.5H424" stroke="#ED7D31" stroke-width="1.4"/>
<text x="426" y="748.3" class="lg" textLength="23" lengthAdjust="spacingAndGlyphs">down</text>
<path d="M406 758.4H424" stroke="#A5A5A5" stroke-width="1.4"/>
<text x="426" y="761.2" class="lg" textLength="11.8" lengthAdjust="spacingAndGlyphs">Up</text>
<path d="M406 771.8H424" stroke="#FFC000" stroke-width="1.4"/>
<text x="426" y="774.6" class="lg" textLength="34.1" lengthAdjust="spacingAndGlyphs">Concave</text>
<text x="489.9" y="830.3" class="tt" textLength="48.2" lengthAdjust="spacingAndGlyphs">C90 (H)</text>
</svg>
</body></html>
